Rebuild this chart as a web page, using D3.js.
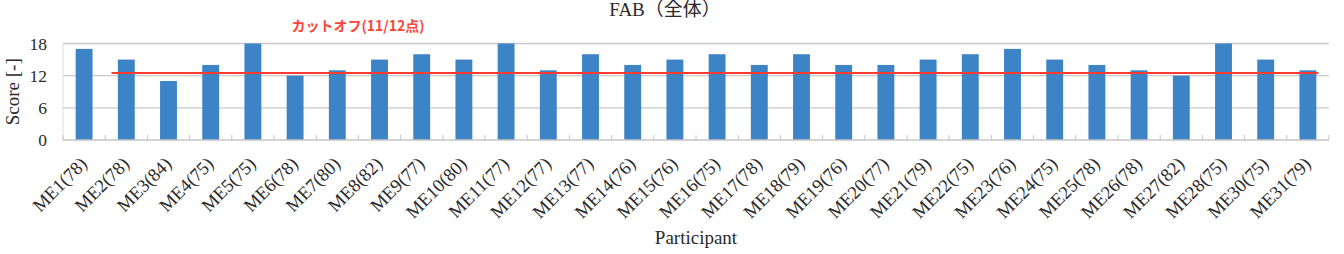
<!DOCTYPE html>
<html>
<head>
<meta charset="utf-8">
<script src="https://cdn.jsdelivr.net/npm/d3@7"></script>
<style>
  body { margin: 0; background: #fff; }
  text { font-family: "Liberation Serif", "Noto Sans CJK JP", serif; fill: #2a2a2a; }
</style>
</head>
<body>
<div id="chart"></div>
<script>
const participants = ["ME1(78)","ME2(78)","ME3(84)","ME4(75)","ME5(75)","ME6(78)","ME7(80)","ME8(82)","ME9(77)","ME10(80)",
  "ME11(77)","ME12(77)","ME13(77)","ME14(76)","ME15(76)","ME16(75)","ME17(78)","ME18(79)","ME19(76)","ME20(77)",
  "ME21(79)","ME22(75)","ME23(76)","ME24(75)","ME25(78)","ME26(78)","ME27(82)","ME28(75)","ME30(75)","ME31(79)"];
const scores = [17,15,11,14,18,12,13,15,16,15,18,13,16,14,15,16,14,16,14,14,15,16,17,15,14,13,12,18,15,13];
const yTicks = [0, 6, 12, 18];
const cutoff = 12.5;

const WIDTH = 1344;
const HEIGHT = 254;
const plotL = 63, plotR = 1329, plotT = 43.5, plotB = 140;

const svg = d3.select("#chart")
  .append("svg")
    .attr("width", WIDTH)
    .attr("height", HEIGHT)

const x = d3.scaleBand()
  .domain(participants)
  .range([plotL, plotR])
  .paddingInner(0.6)
  .paddingOuter(0.3)

const y = d3.scaleLinear()
  .domain([0, 18])
  .range([plotB, plotT])

const gap = (x.step() - x.bandwidth()) / 2;

// gridlines
svg.selectAll("line.grid")
  .data(yTicks.filter(d => d > 0))
  .enter().append("line")
    .attr("class", "grid")
    .attr("x1", plotL).attr("x2", plotR)
    .attr("y1", d => y(d)).attr("y2", d => y(d))
    .attr("stroke", "#c9c9c9")
    .attr("stroke-width", 1.4)

svg.append("line")
  .attr("x1", plotL).attr("x2", plotL)
  .attr("y1", y(18)).attr("y2", y(0))
  .attr("stroke", "#dedede")

// y tick labels
svg.selectAll("text.ytick")
  .data(yTicks)
  .enter().append("text")
    .attr("class", "ytick")
    .attr("x", 47)
    .attr("y", d => y(d) + 6)
    .attr("text-anchor", "end")
    .attr("font-size", 17.5)
    .text(d => d)

// bars
svg.selectAll("rect")
  .data(scores)
  .enter().append("rect")
    .attr("x", (d, i) => x(participants[i]))
    .attr("y", d => y(d))
    .attr("width", x.bandwidth())
    .attr("height", d => y(0) - y(d))
    .attr("fill", "#3c84c6")

// x axis baseline and inward ticks
svg.append("line")
  .attr("x1", plotL).attr("x2", plotR)
  .attr("y1", y(0)).attr("y2", y(0))
  .attr("stroke", "#c4c4c4")
  .attr("stroke-width", 1.4)

const bounds = participants.map(p => x(p) - gap).concat([plotR]);
svg.selectAll("line.xtick")
  .data(bounds)
  .enter().append("line")
    .attr("class", "xtick")
    .attr("x1", d => d).attr("x2", d => d)
    .attr("y1", y(0)).attr("y2", y(0) - 5)
    .attr("stroke", "#c4c4c4")

// x labels
svg.selectAll("text.xlab")
  .data(participants)
  .enter().append("text")
    .attr("class", "xlab")
    .attr("text-anchor", "end")
    .attr("font-size", 18.5)
    .attr("transform", d => `translate(${x(d) + x.bandwidth() / 2 + 4},${y(0) + 25}) rotate(-45)`)
    .text(d => d)

// cutoff line
svg.append("line")
  .attr("x1", x(participants[1]) - gap / 2)
  .attr("x2", x(participants[participants.length - 1]) + x.bandwidth() + 2)
  .attr("y1", y(cutoff)).attr("y2", y(cutoff))
  .attr("stroke", "#ff3a2e")
  .attr("stroke-width", 2)

svg.append("text")
  .attr("x", 358)
  .attr("y", 31)
  .attr("text-anchor", "middle")
  .attr("font-size", 14)
  .attr("font-weight", "bold")
  .style("font-family", "'Noto Sans CJK JP', sans-serif")
  .style("fill", "#ff4438")
  .text("カットオフ(11/12点)")

// title
svg.append("text")
  .attr("x", 665)
  .attr("y", 16)
  .attr("text-anchor", "middle")
  .attr("font-size", 19)
  .text("FAB（全体）")

// axis titles
svg.append("text")
  .attr("transform", `translate(19,${(plotT + plotB) / 2}) rotate(-90)`)
  .attr("text-anchor", "middle")
  .attr("font-size", 19)
  .text("Score [-]")

svg.append("text")
  .attr("x", (plotL + plotR) / 2)
  .attr("y", 244)
  .attr("text-anchor", "middle")
  .attr("font-size", 19)
  .text("Participant")
</script>
</body>
</html>
